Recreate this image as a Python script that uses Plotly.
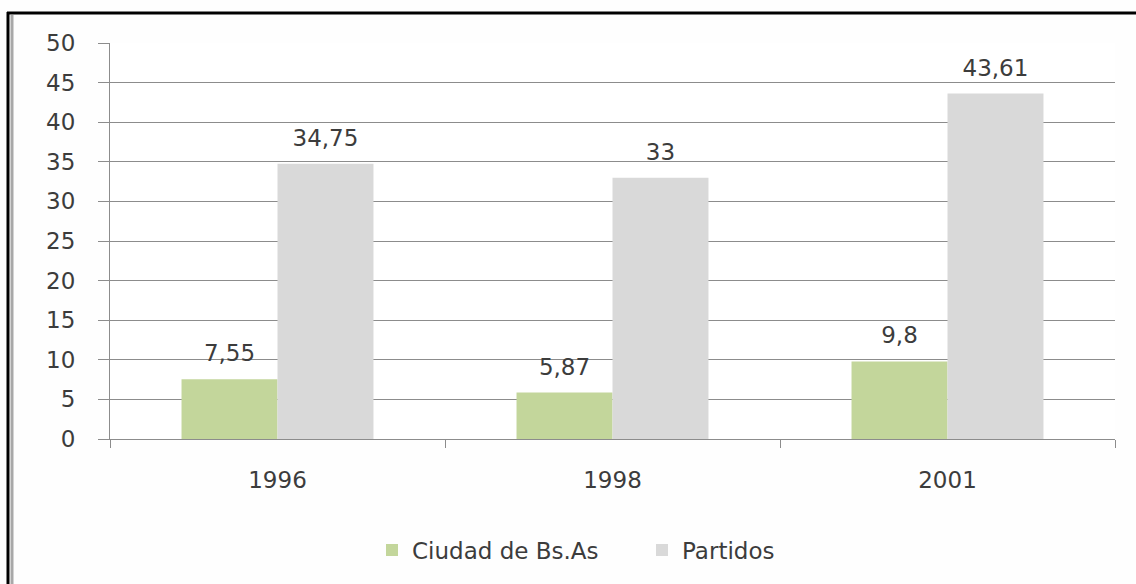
import plotly.graph_objects as go

years = ["1996", "1998", "2001"]
ciudad = [7.55, 5.87, 9.8]
partidos = [34.75, 33, 43.61]
ciudad_labels = ["7,55", "5,87", "9,8"]
partidos_labels = ["34,75", "33", "43,61"]
y_ticks = [0, 5, 10, 15, 20, 25, 30, 35, 40, 45, 50]

FONT = "DejaVu Sans"
TXT = "#3C3C3C"
GRID = "#8C8C8C"
FS = 23

fig = go.Figure()
fig.add_trace(go.Bar(
    x=years, y=ciudad, name="Ciudad de Bs.As",
    marker=dict(color="#C3D69B", line=dict(width=0)),
    offsetgroup="c", hoverinfo="skip",
))
fig.add_trace(go.Bar(
    x=years, y=partidos, name="Partidos",
    marker=dict(color="#D9D9D9", line=dict(width=0)),
    offsetgroup="p", hoverinfo="skip",
))
for vals, labels, grp in [(ciudad, ciudad_labels, "c"), (partidos, partidos_labels, "p")]:
    fig.add_trace(go.Scatter(
        x=years, y=vals, mode="markers+text", text=labels,
        textposition="top center", offsetgroup=grp, showlegend=False,
        marker=dict(size=18, color="rgba(0,0,0,0)"),
        textfont=dict(family=FONT, size=FS, color=TXT), cliponaxis=False,
        hoverinfo="skip",
    ))

L, R, T, B = 110, 21, 43, 145
W, H = 1136, 584
pw, ph = W - L - R, H - T - B

def px_x(p):
    return (p - L) / pw

def px_y(p):
    return (H - B - p) / ph

fig.update_layout(
    width=W, height=H,
    margin=dict(l=L, r=R, t=T, b=B, pad=0),
    paper_bgcolor="#FEFEFE",
    plot_bgcolor="#FFFFFF",
    barmode="group",
    bargap=0.427,
    bargroupgap=0,
    scattermode="group",
    scattergap=0.427,
    font=dict(family=FONT, size=FS, color=TXT),
    showlegend=True,
    hovermode=False,
    legend=dict(
        orientation="h", x=px_x(372), xanchor="left", y=px_y(550), yanchor="middle",
        font=dict(family=FONT, size=FS, color=TXT),
        itemsizing="constant", bgcolor="rgba(0,0,0,0)",
        traceorder="normal", entrywidth=225, entrywidthmode="pixels",
    ),
    xaxis=dict(
        type="category", showgrid=False, showline=True, linecolor=GRID, linewidth=1,
        ticks="outside", ticklen=8, tickcolor=GRID, tickson="boundaries",
        tickfont=dict(family=FONT, size=FS, color=TXT),
        ticklabelstandoff=20,
    ),
    yaxis=dict(
        range=[0, 50], tickvals=y_ticks, showgrid=True, gridcolor=GRID, gridwidth=1,
        showline=True, linecolor=GRID, linewidth=1,
        ticks="outside", ticklen=11, tickcolor=GRID,
        tickfont=dict(family=FONT, size=FS, color=TXT),
        ticklabelstandoff=18, zeroline=False,
    ),
    shapes=[
        dict(type="line", xref="paper", yref="paper",
             x0=px_x(8), x1=px_x(8), y0=px_y(12), y1=px_y(590),
             line=dict(color="#000000", width=3)),
        dict(type="line", xref="paper", yref="paper",
             x0=px_x(7), x1=px_x(1140), y0=px_y(13), y1=px_y(13),
             line=dict(color="#000000", width=3)),
        dict(type="line", xref="paper", yref="paper",
             x0=px_x(12), x1=px_x(12), y0=px_y(15), y1=px_y(590),
             line=dict(color="#A8A8A8", width=3)),
    ],
)

fig.write_html(
    "out.html",
    config={"displayModeBar": False},
    post_script="document.body.style.margin='0px';document.body.style.overflow='hidden';",
)
